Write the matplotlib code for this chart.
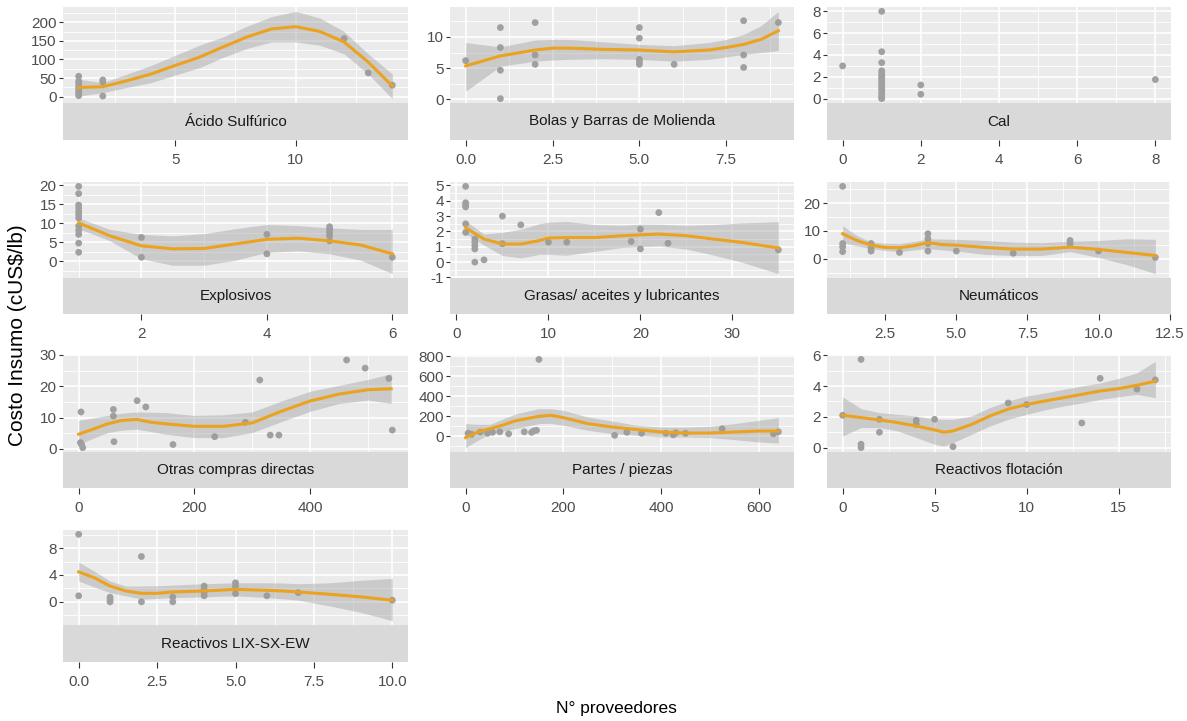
import numpy as np
import matplotlib.pyplot as plt
from matplotlib.ticker import AutoMinorLocator

plt.rcParams['font.family'] = ['Liberation Sans', 'DejaVu Sans']

# --- data (points, loess fit, ribbon) ---
acido_px = [1, 1, 1, 1, 1, 1, 1, 1, 2, 2, 2, 12, 13, 14]
acido_py = [55, 42, 35, 27, 20, 13, 8, 3, 45, 40, 2, 156, 64, 31]
acido_fx = [1, 2, 3, 4, 5, 6, 7, 8, 9, 10, 11, 12, 13, 14]
acido_fy = [25, 27, 43, 61, 84, 106, 134, 161, 182, 188, 175, 147, 93, 29]
acido_hi = [47, 38, 61, 84, 111, 138, 161, 190, 215, 229, 211, 175, 115, 61]
acido_lo = [2, 11, 25, 38, 58, 78, 106, 130, 147, 147, 138, 115, 61, -5]

bolas_px = [0, 1, 1, 1, 1, 2, 2, 2, 5, 5, 5, 5, 5, 6, 8, 8, 8, 9]
bolas_py = [6.2, 11.5, 8.3, 4.65, 0.1, 12.3, 7.1, 5.6, 11.5, 9.8, 6.4, 6.0, 5.6, 5.6, 12.6, 7.1, 5.1, 12.3]
bolas_fx = [0, 1, 2, 2.5, 3, 4, 5, 6, 7, 7.5, 8, 8.5, 9]
bolas_fy = [5.35, 6.95, 7.9, 8.2, 8.2, 8.0, 7.9, 7.6, 7.9, 8.3, 8.8, 9.6, 11.0]
bolas_hi = [9.1, 8.4, 9.5, 9.6, 9.6, 9.2, 8.8, 8.6, 9.1, 9.6, 10.4, 11.8, 14.1]
bolas_lo = [1.3, 5.3, 6.1, 6.3, 6.4, 6.5, 6.4, 6.1, 6.4, 6.8, 7.2, 7.5, 7.8]

cal_px = [0] + [1] * 17 + [2, 2, 8]
cal_py = [3.0, 8.0, 4.3, 3.3, 2.55, 2.3, 2.1, 1.9, 1.7, 1.5, 1.3, 1.1, 0.9, 0.7, 0.5, 0.3, 0.1, 0.0,
          1.25, 0.4, 1.75]

explo_px = [1] * 12 + [2, 2, 4, 4, 5, 5, 5, 5, 5, 6]
explo_py = [19.7, 17.8, 14.8, 14.0, 13.1, 12.3, 11.4, 9.3, 8.2, 7.1, 4.8, 2.4,
            6.3, 1.1, 7.1, 2.0, 9.1, 8.4, 7.6, 6.7, 5.4, 1.1]
explo_fx = [1, 1.5, 2, 2.5, 3, 3.5, 4, 4.5, 5, 5.5, 6]
explo_fy = [10.1, 6.7, 4.1, 3.3, 3.4, 4.6, 5.8, 6.1, 5.4, 4.3, 2.0]
explo_hi = [11.4, 8.4, 7.1, 6.7, 7.3, 8.6, 9.7, 9.4, 8.8, 8.4, 8.4]
explo_lo = [8.6, 5.4, 0.7, -1.0, -1.0, 0.3, 2.4, 2.8, 2.0, 0.3, -3.2]

grasas_px = [1, 1, 1, 1, 1, 1, 2, 2, 2, 2, 2, 3, 5, 5, 7, 10, 12, 19, 20, 20, 22, 23, 35]
grasas_py = [4.94, 3.87, 3.7, 3.6, 2.5, 1.94, 1.5, 1.3, 1.08, 0.86, 0.0, 0.15, 3.0, 1.2, 2.43,
             1.3, 1.3, 1.35, 2.15, 0.86, 3.23, 1.23, 0.8]
grasas_fx = [1, 2, 3, 5, 7, 9, 10, 12, 15, 18, 20, 22, 25, 28, 31, 35]
grasas_fy = [2.26, 1.87, 1.5, 1.18, 1.18, 1.4, 1.57, 1.6, 1.6, 1.72, 1.78, 1.83, 1.72, 1.5, 1.29, 0.92]
grasas_hi = [2.69, 2.26, 1.83, 1.94, 2.15, 2.5, 2.6, 2.65, 2.45, 2.4, 2.47, 2.47, 2.4, 2.45, 2.55, 2.64]
grasas_lo = [1.83, 1.5, 1.1, 0.43, 0.28, 0.5, 0.5, 0.45, 0.7, 0.95, 1.0, 1.05, 0.85, 0.45, 0.0, -0.75]

neuma_px = [1, 1, 1, 1, 2, 2, 2, 3, 4, 4, 4, 4, 5, 7, 9, 9, 10, 12]
neuma_py = [26.0, 5.5, 4.3, 2.6, 5.5, 3.7, 2.8, 2.3, 9.0, 7.2, 5.5, 2.8, 2.8, 2.0, 6.6, 5.5, 2.8, 0.5]
neuma_fx = [1, 1.5, 2, 2.5, 3, 3.5, 4, 4.5, 5, 6, 7, 8, 9, 10, 11, 12]
neuma_fy = [9.0, 6.6, 4.9, 4.1, 4.0, 4.7, 5.8, 5.1, 4.9, 4.1, 3.5, 3.5, 4.2, 3.4, 2.3, 1.2]
neuma_hi = [11.9, 8.4, 6.0, 5.6, 5.5, 6.2, 7.2, 7.1, 7.0, 6.6, 6.0, 5.8, 6.3, 6.6, 7.2, 7.0]
neuma_lo = [5.8, 4.7, 3.7, 3.0, 2.6, 3.2, 3.7, 3.2, 2.8, 1.6, 1.2, 1.2, 2.6, 0.5, -2.1, -5.3]

otras_px = [3, 4, 5, 7, 60, 60, 61, 101, 116, 163, 235, 288, 313, 331, 346, 463, 495, 536, 542]
otras_py = [2.0, 11.8, 1.4, 0.4, 12.6, 10.5, 2.3, 15.4, 13.4, 1.4, 3.9, 8.5, 22.0, 4.4, 4.4,
            28.4, 25.8, 22.5, 6.0]
otras_fx = [0, 25, 50, 75, 100, 125, 150, 200, 250, 300, 350, 400, 450, 500, 540]
otras_fy = [4.7, 6.3, 8.0, 9.1, 9.4, 8.5, 8.0, 7.2, 7.2, 8.3, 12.0, 15.3, 17.5, 18.9, 19.2]
otras_hi = [9.1, 9.9, 10.7, 11.4, 11.8, 11.7, 11.6, 10.7, 10.9, 11.8, 15.3, 18.4, 20.3, 22.2, 24.0]
otras_lo = [1.4, 3.4, 5.2, 6.0, 6.3, 5.5, 4.7, 3.6, 3.6, 5.2, 8.7, 12.0, 14.5, 15.6, 14.5]

partes_px = [5, 12, 30, 45, 55, 70, 88, 120, 135, 140, 145, 150, 305, 330, 360, 410, 425, 430,
             450, 525, 630, 640]
partes_py = [30, 20, 42, 30, 40, 45, 25, 45, 40, 55, 60, 770, 10, 40, 30, 30, 15, 35, 30, 75, 25, 45]
partes_fx = [0, 25, 50, 75, 100, 125, 150, 175, 200, 250, 300, 350, 400, 450, 500, 550, 600, 640]
partes_fy = [-13, 43, 77, 110, 153, 177, 200, 210, 187, 127, 93, 67, 43, 33, 33, 43, 53, 53]
partes_hi = [127, 120, 120, 170, 220, 250, 277, 275, 260, 193, 153, 110, 93, 93, 100, 127, 160, 187]
partes_lo = [-113, -40, 27, 50, 77, 100, 127, 130, 110, 60, 27, 10, -7, -7, -13, -33, -57, -67]

flota_px = [0, 1, 1, 1, 2, 2, 4, 4, 5, 6, 9, 10, 13, 14, 16, 17]
flota_py = [2.1, 5.73, 0.22, 0.0, 1.84, 1.0, 1.77, 1.5, 1.84, 0.06, 2.9, 2.8, 1.6, 4.5, 3.8, 4.4]
flota_fx = [0, 1, 2, 3, 4, 5, 5.5, 6, 7, 8, 9, 10, 11, 12, 13, 14, 15, 16, 17]
flota_fy = [2.1, 1.95, 1.8, 1.62, 1.4, 1.15, 1.0, 1.08, 1.5, 2.05, 2.5, 2.8, 3.03, 3.24, 3.46,
            3.68, 3.83, 4.05, 4.32]
flota_hi = [3.3, 2.53, 2.27, 2.16, 2.05, 1.84, 1.84, 1.84, 2.05, 2.6, 3.03, 3.35, 3.55, 3.78, 4.0,
            4.2, 4.5, 4.86, 5.6]
flota_lo = [0.75, 1.3, 1.3, 1.08, 0.65, 0.22, 0.1, 0.32, 0.86, 1.4, 1.84, 2.16, 2.45, 2.7, 2.9,
            3.13, 3.3, 3.46, 3.24]

lix_px = [0, 0, 1, 1, 1, 2, 2, 3, 3, 4, 4, 4, 4, 5, 5, 5, 5, 6, 7, 10]
lix_py = [10.05, 0.9, 0.7, 0.3, 0.0, 6.75, 0.0, 0.7, 0.0, 2.35, 1.86, 1.37, 0.9, 2.84, 2.35, 1.86,
          1.22, 0.9, 1.37, 0.25]
lix_fx = [0, 0.5, 1, 1.5, 2, 2.5, 3, 4, 5, 6, 6.5, 7, 8, 9, 10]
lix_fy = [4.46, 3.58, 2.35, 1.62, 1.27, 1.27, 1.47, 1.62, 1.86, 1.72, 1.62, 1.47, 1.13, 0.74, 0.25]
lix_hi = [5.9, 4.56, 3.1, 2.35, 2.35, 2.4, 2.5, 2.7, 2.84, 2.84, 2.8, 2.7, 2.84, 3.2, 3.5]
lix_lo = [3.1, 2.2, 1.37, 0.9, 0.4, 0.5, 0.65, 0.74, 0.9, 0.65, 0.45, 0.25, -0.6, -1.57, -2.8]

facet_names = ['Ácido Sulfúrico', 'Bolas y Barras de Molienda', 'Cal',
               'Explosivos', 'Grasas/ aceites y lubricantes', 'Neumáticos',
               'Otras compras directas', 'Partes / piezas', 'Reactivos flotación',
               'Reactivos LIX-SX-EW']

x_breaks = [[5, 10], [0, 2.5, 5, 7.5], [0, 2, 4, 6, 8],
            [2, 4, 6], [0, 10, 20, 30], [2.5, 5, 7.5, 10, 12.5],
            [0, 200, 400], [0, 200, 400, 600], [0, 5, 10, 15],
            [0, 2.5, 5, 7.5, 10]]
x_labels = [['5', '10'], ['0.0', '2.5', '5.0', '7.5'], ['0', '2', '4', '6', '8'],
            ['2', '4', '6'], ['0', '10', '20', '30'], ['2.5', '5.0', '7.5', '10.0', '12.5'],
            ['0', '200', '400'], ['0', '200', '400', '600'], ['0', '5', '10', '15'],
            ['0.0', '2.5', '5.0', '7.5', '10.0']]
y_breaks = [[0, 50, 100, 150, 200], [0, 5, 10], [0, 2, 4, 6, 8],
            [0, 5, 10, 15, 20], [-1, 0, 1, 2, 3, 4, 5], [0, 10, 20],
            [0, 10, 20, 30], [0, 200, 400, 600, 800], [0, 2, 4, 6],
            [0, 4, 8]]

panels = [
    (acido_px, acido_py, acido_fx, acido_fy, acido_lo, acido_hi),
    (bolas_px, bolas_py, bolas_fx, bolas_fy, bolas_lo, bolas_hi),
    (cal_px, cal_py, None, None, None, None),
    (explo_px, explo_py, explo_fx, explo_fy, explo_lo, explo_hi),
    (grasas_px, grasas_py, grasas_fx, grasas_fy, grasas_lo, grasas_hi),
    (neuma_px, neuma_py, neuma_fx, neuma_fy, neuma_lo, neuma_hi),
    (otras_px, otras_py, otras_fx, otras_fy, otras_lo, otras_hi),
    (partes_px, partes_py, partes_fx, partes_fy, partes_lo, partes_hi),
    (flota_px, flota_py, flota_fx, flota_fy, flota_lo, flota_hi),
    (lix_px, lix_py, lix_fx, lix_fy, lix_lo, lix_hi),
]

# --- layout in pixels (ggplot facet_wrap, strips at bottom) ---
W, H = 1187, 721
col_lr = [(63, 408), (450, 794), (827, 1171)]
row_tbs = [(7, 103, 140), (182, 278, 314), (355, 452, 488), (530, 625, 662)]

fig = plt.figure(figsize=(W / 100, H / 100), dpi=100)

def expand(vals, frac=0.05):
    lo, hi = min(vals), max(vals)
    pad = (hi - lo) * frac
    return lo - pad, hi + pad

for i, (px, py, fx, fy, lo, hi) in enumerate(panels):
    r, c = divmod(i, 3)
    left, right = col_lr[c]
    top, bot, sbot = row_tbs[r]

    ax = fig.add_axes([left / W, 1 - bot / H, (right - left) / W, (bot - top) / H])
    sax = fig.add_axes([left / W, 1 - sbot / H, (right - left) / W, (sbot - bot) / H])

    xs = list(px) + (list(fx) if fx else [])
    ys = list(py) + (list(lo) + list(hi) if lo else [])
    xlim = expand(xs)
    ylim = expand(ys)

    ax.set_facecolor('#EBEBEB')
    for s in ax.spines.values():
        s.set_visible(False)
    ax.set_xlim(xlim)
    ax.set_ylim(ylim)
    ax.set_xticks(x_breaks[i])
    ax.set_yticks(y_breaks[i])
    ax.set_yticklabels([str(v) for v in y_breaks[i]])
    ax.xaxis.set_minor_locator(AutoMinorLocator(2))
    ax.yaxis.set_minor_locator(AutoMinorLocator(2))
    ax.grid(which='major', color='white', linewidth=1.2)
    ax.grid(which='minor', color='white', linewidth=0.6)
    ax.set_axisbelow(True)
    ax.tick_params(axis='x', which='both', length=0, labelbottom=False)
    ax.tick_params(axis='y', which='major', length=3, width=0.8, color='#333333',
                   labelcolor='#4D4D4D', labelsize=11, pad=1.5)
    ax.tick_params(axis='y', which='minor', length=0)

    ax.scatter(px, py, s=24, color='#A0A0A0', edgecolors='none', zorder=2)
    if fx:
        ax.fill_between(fx, lo, hi, color='#999999', alpha=0.4, linewidth=0, zorder=3)
        ax.plot(fx, fy, color='#EBA21E', linewidth=2.2, zorder=4)

    sax.set_facecolor('#D9D9D9')
    for s in sax.spines.values():
        s.set_visible(False)
    sax.set_xlim(xlim)
    sax.set_ylim(0, 1)
    sax.set_yticks([])
    sax.set_xticks(x_breaks[i])
    sax.set_xticklabels(x_labels[i])
    sax.tick_params(axis='x', length=4, width=0.8, color='#333333', labelcolor='#4D4D4D',
                    labelsize=11, pad=5)
    sax.text(0.5, 0.5, facet_names[i], transform=sax.transAxes, ha='center', va='center',
             fontsize=11, color='#1A1A1A')

fig.text(18 / W, 1 - 335 / H, 'Costo Insumo (cUS$/lb)', rotation=90, ha='center', va='center',
         fontsize=15)
fig.text(616 / W, 1 - 708 / H, 'N° proveedores', ha='center', va='center', fontsize=12.5)

fig.savefig('out.png', dpi=100)
